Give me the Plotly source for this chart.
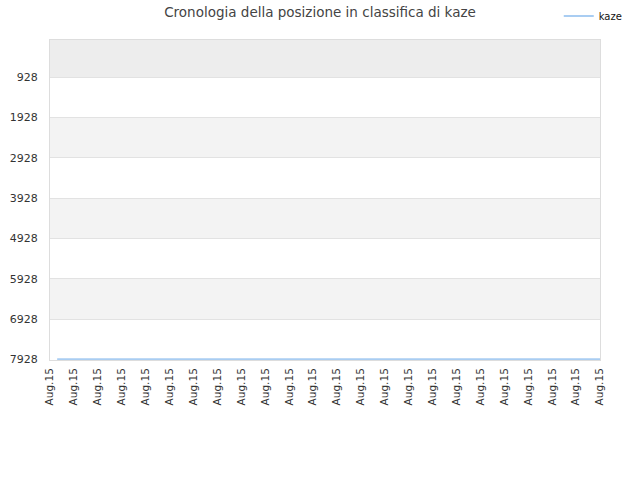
import plotly.graph_objects as go

# ranking history of kaze (lower is better)
tick_pos = list(range(24))
tick_labels = ["Aug.15"] * 24
dates = [0.3, 23]
ranks = [7928, 7928]
y_ticks = [928, 1928, 2928, 3928, 4928, 5928, 6928, 7928]

fig = go.Figure()
fig.add_trace(go.Scatter(x=dates, y=ranks, mode="lines", name="kaze",
                         line=dict(color="#a9cdf2", width=2)))

# alternating background bands
bands = [(1, 928, "#ededed"), (1928, 2928, "#f3f3f3"), (3928, 4928, "#f3f3f3"),
         (5928, 6928, "#f3f3f3")]
for y0, y1, c in bands:
    fig.add_shape(type="rect", xref="paper", x0=0, x1=1, y0=y0, y1=y1,
                  fillcolor=c, line_width=0, layer="below")

fig.update_layout(
    width=640, height=480,
    margin=dict(l=50, r=40, t=40, b=120, autoexpand=False),
    paper_bgcolor="white", plot_bgcolor="white",
    font=dict(family="DejaVu Sans", size=10, color="#333"),
    title=dict(text="Cronologia della posizione in classifica di kaze", x=0.5, y=0.985,
               xanchor="center", font=dict(size=13.5, color="#444")),
    showlegend=True,
    legend=dict(x=0.925, y=1.12, xanchor="left", yanchor="top", itemwidth=30,
                font=dict(size=10, color="#111"), bgcolor="rgba(0,0,0,0)"),
)
fig.update_xaxes(range=[0, 23], tickmode="array", tickvals=tick_pos, ticktext=tick_labels,
                 tickangle=-90, showgrid=False, zeroline=False, showline=True,
                 linecolor="#dddddd", mirror=True, ticks="", automargin=False,
                 layer="below traces",
                 ticklabelstandoff=3, tickfont=dict(size=10.5, color="#333"))
fig.update_yaxes(range=[7945, 1], tickmode="array", tickvals=y_ticks,
                 showgrid=True, gridcolor="#e2e2e2", zeroline=False, showline=True,
                 linecolor="#dddddd", mirror=True, ticks="", automargin=False,
                 layer="below traces",
                 ticklabelstandoff=9, tickfont=dict(size=11, color="#333"))

fig.write_html("out.html", config={"displayModeBar": False},
               post_script="document.body.style.margin='0';")
